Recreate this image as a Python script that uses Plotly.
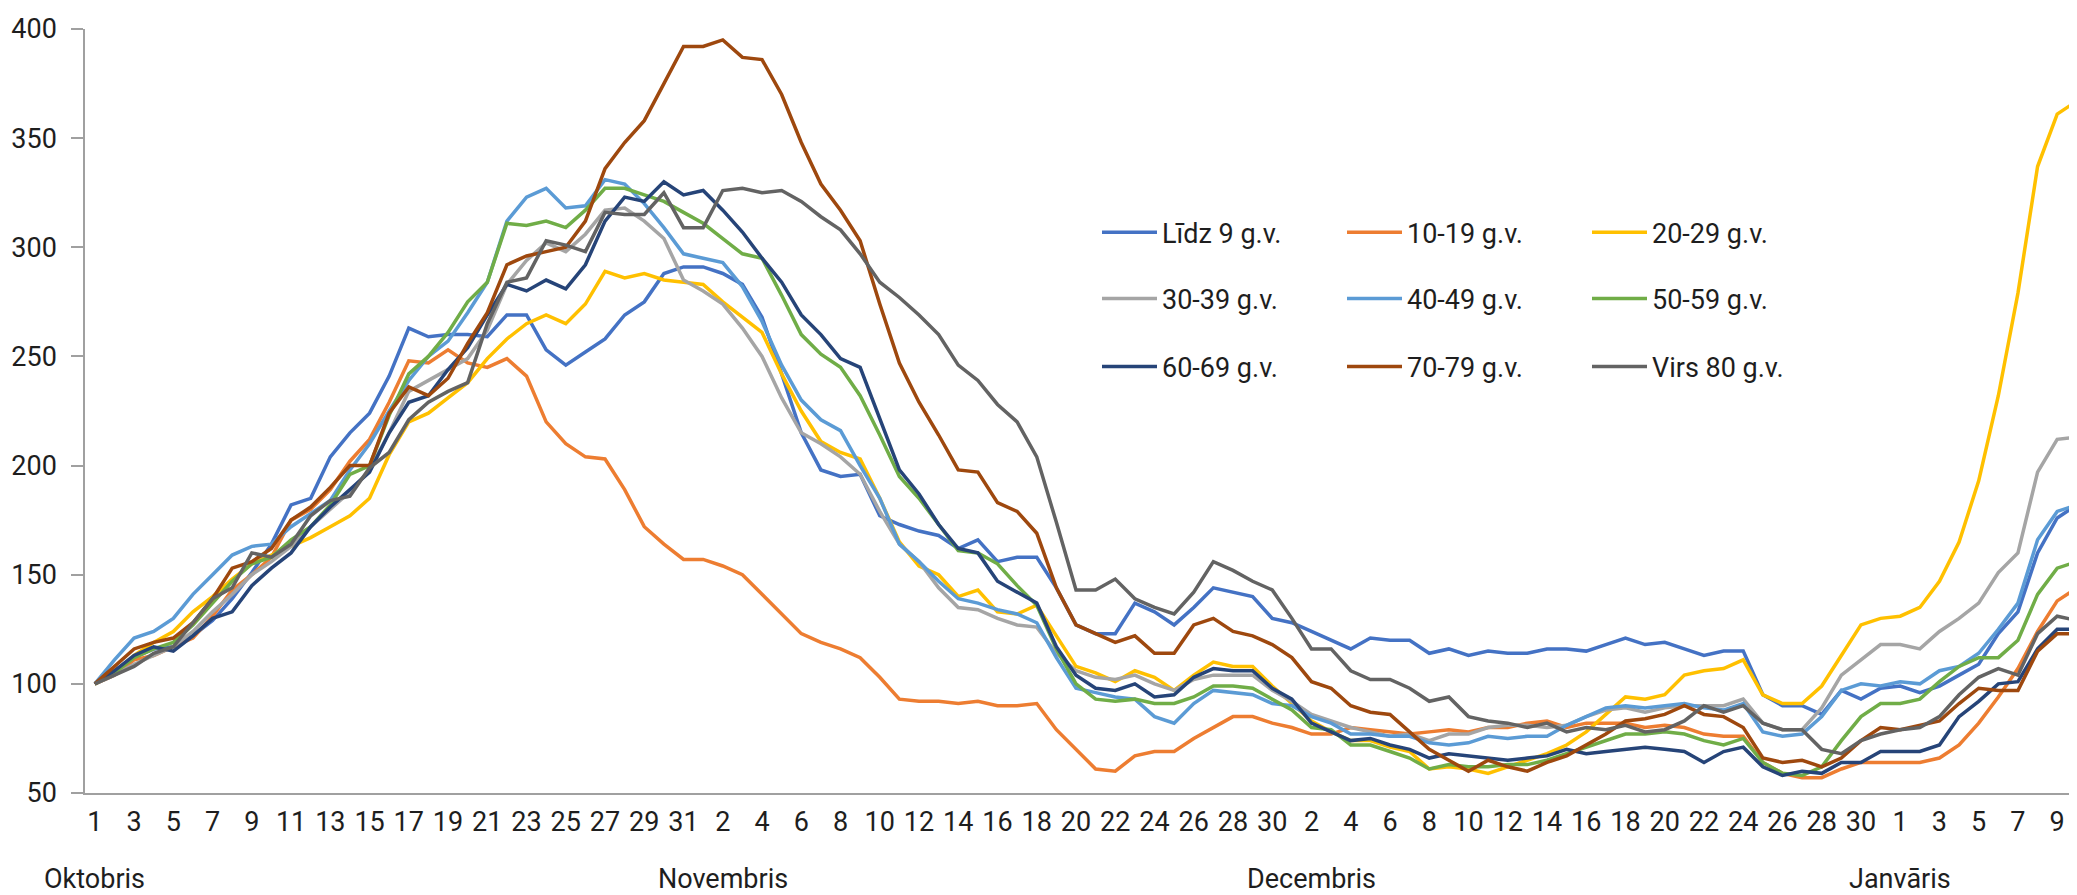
import pandas as pd
import plotly.graph_objects as go

# daily index, 1 Oct = 100
dates = pd.date_range('2021-10-01', '2022-01-10', freq='D')

names = ['Līdz 9 g.v.', '10-19 g.v.', '20-29 g.v.',
         '30-39 g.v.', '40-49 g.v.', '50-59 g.v.',
         '60-69 g.v.', '70-79 g.v.', 'Virs 80 g.v.']
colors = ['#4472C4', '#ED7D31', '#FFC000',
          '#A5A5A5', '#5B9BD5', '#70AD47',
          '#264478', '#9E480E', '#636363']

lidz_9 = [100, 106, 112, 116, 117, 122, 129, 139, 151, 164, 182, 185, 204, 215, 224, 241, 263, 259, 260, 260,
          259, 269, 269, 253, 246, 252, 258, 269, 275, 288, 291,
          291, 288, 283, 268, 242, 215, 198, 195, 196, 177, 173, 170, 168, 162, 166, 156, 158, 158, 144, 127,
          123, 123, 137, 133, 127, 135, 144, 142, 140, 130,
          128, 124, 120, 116, 121, 120, 120, 114, 116, 113, 115, 114, 114, 116, 116, 115, 118, 121, 118, 119,
          116, 113, 115, 115, 95, 90, 90, 86, 97, 93, 98,
          99, 96, 99, 104, 109, 123, 133, 160, 176, 182]
g10_19 = [100, 104, 111, 113, 117, 121, 131, 143, 150, 158, 175, 180, 189, 202, 212, 229, 248, 247, 253, 247,
          245, 249, 241, 220, 210, 204, 203, 189, 172, 164, 157,
          157, 154, 150, 141, 132, 123, 119, 116, 112, 103, 93, 92, 92, 91, 92, 90, 90, 91, 79, 70,
          61, 60, 67, 69, 69, 75, 80, 85, 85, 82,
          80, 77, 77, 80, 79, 78, 77, 78, 79, 78, 80, 80, 82, 83, 80, 82, 82, 82, 80, 81,
          80, 77, 76, 76, 64, 59, 57, 57, 61, 64, 64,
          64, 64, 66, 72, 82, 94, 107, 124, 138, 144]
g20_29 = [100, 105, 113, 119, 124, 133, 140, 148, 155, 159, 163, 167, 172, 177, 185, 205, 220, 224, 231, 238,
          249, 258, 265, 269, 265, 274, 289, 286, 288, 285, 284,
          283, 275, 268, 261, 242, 225, 211, 206, 203, 185, 165, 154, 150, 140, 143, 133, 132, 136, 122, 108,
          105, 101, 106, 103, 97, 104, 110, 108, 108, 99,
          91, 83, 78, 74, 74, 71, 69, 61, 62, 61, 59, 62, 65, 68, 72, 78, 86, 94, 93, 95,
          104, 106, 107, 111, 95, 91, 91, 99, 113, 127, 130,
          131, 135, 147, 165, 193, 232, 279, 337, 361, 367]
g30_39 = [100, 104, 109, 113, 117, 124, 133, 141, 150, 156, 163, 172, 180, 188, 198, 215, 234, 239, 244, 249,
          262, 283, 294, 302, 298, 306, 317, 318, 312, 304, 285,
          280, 274, 263, 250, 231, 215, 210, 204, 196, 179, 164, 156, 144, 135, 134, 130, 127, 126, 114, 106,
          103, 102, 104, 100, 97, 102, 104, 104, 104, 97,
          92, 86, 83, 80, 78, 76, 77, 74, 77, 77, 80, 81, 81, 80, 81, 85, 88, 89, 87, 89,
          90, 90, 90, 93, 82, 79, 79, 89, 104, 111, 118,
          118, 116, 124, 130, 137, 151, 160, 197, 212, 213]
g40_49 = [100, 111, 121, 124, 130, 141, 150, 159, 163, 164, 172, 178, 184, 198, 210, 225, 239, 250, 257, 270,
          284, 312, 323, 327, 318, 319, 331, 329, 320, 309, 297,
          295, 293, 282, 266, 246, 230, 221, 216, 200, 185, 164, 156, 147, 139, 137, 134, 132, 128, 112, 98,
          96, 94, 93, 85, 82, 91, 97, 96, 95, 91,
          90, 85, 82, 77, 77, 76, 76, 73, 72, 73, 76, 75, 76, 76, 81, 85, 89, 90, 89, 90,
          91, 89, 88, 91, 78, 76, 77, 85, 97, 100, 99,
          101, 100, 106, 108, 114, 125, 137, 166, 179, 182]
g50_59 = [100, 105, 112, 116, 119, 127, 137, 147, 155, 158, 166, 172, 182, 196, 200, 223, 242, 250, 261, 275,
          284, 311, 310, 312, 309, 317, 327, 327, 324, 321, 316,
          311, 304, 297, 295, 278, 260, 251, 245, 232, 214, 195, 185, 173, 161, 160, 155, 145, 136, 116, 100,
          93, 92, 93, 91, 91, 94, 99, 99, 98, 93,
          88, 80, 79, 72, 72, 69, 66, 61, 63, 62, 62, 63, 63, 65, 68, 71, 74, 77, 77, 78,
          77, 74, 72, 75, 64, 59, 58, 62, 74, 85, 91,
          91, 93, 101, 108, 112, 112, 120, 141, 153, 156]
g60_69 = [100, 106, 113, 117, 115, 122, 130, 133, 145, 153, 160, 172, 181, 189, 197, 215, 229, 232, 244, 254,
          269, 283, 280, 285, 281, 292, 312, 323, 321, 330, 324,
          326, 317, 307, 295, 284, 269, 260, 249, 245, 221, 198, 187, 173, 162, 160, 147, 142, 137, 117, 104,
          98, 97, 100, 94, 95, 103, 107, 106, 106, 98,
          93, 82, 78, 74, 75, 72, 70, 66, 68, 67, 66, 65, 66, 67, 70, 68, 69, 70, 71, 70,
          69, 64, 69, 71, 62, 58, 60, 59, 64, 64, 69,
          69, 69, 72, 85, 92, 100, 101, 116, 125, 125]
g70_79 = [100, 108, 116, 119, 121, 128, 139, 153, 156, 162, 175, 181, 190, 200, 200, 224, 236, 232, 240, 256,
          270, 292, 296, 298, 300, 312, 336, 348, 358, 375, 392,
          392, 395, 387, 386, 370, 348, 329, 317, 303, 274, 247, 229, 214, 198, 197, 183, 179, 169, 144, 127,
          123, 119, 122, 114, 114, 127, 130, 124, 122, 118,
          112, 101, 98, 90, 87, 86, 78, 70, 65, 60, 65, 62, 60, 64, 67, 72, 77, 83, 84, 86,
          90, 86, 85, 80, 66, 64, 65, 62, 66, 74, 80,
          79, 81, 83, 91, 98, 97, 97, 115, 123, 123]
virs_80 = [100, 104, 108, 114, 117, 128, 139, 144, 160, 158, 164, 177, 184, 186, 199, 206, 221, 229, 234, 238,
           265, 284, 286, 303, 301, 298, 316, 315, 315, 325, 309,
           309, 326, 327, 325, 326, 321, 314, 308, 297, 284, 277, 269, 260, 246, 239, 228, 220, 204, 174, 143,
           143, 148, 139, 135, 132, 142, 156, 152, 147, 143,
           130, 116, 116, 106, 102, 102, 98, 92, 94, 85, 83, 82, 80, 82, 78, 80, 79, 81, 78, 79,
           83, 90, 87, 90, 82, 79, 79, 70, 68, 74, 77,
           79, 80, 85, 95, 103, 107, 104, 123, 131, 129]

series = [lidz_9, g10_19, g20_29, g30_39, g40_49, g50_59, g60_69, g70_79, virs_80]

month_labels = ['Oktobris', 'Novembris', 'Decembris', 'Janvāris']
month_at = ['2021-10-01', '2021-11-02', '2021-12-02', '2022-01-01']

font_name = 'Roboto, sans-serif'
txt_col = '#1e1e1e'
axis_col = '#a0a0a0'
fsize = 27


def tfont(size=fsize):
    return dict(family=font_name, size=size, color=txt_col)


fig = go.Figure()
legends = ['legend', 'legend', 'legend', 'legend2', 'legend2', 'legend2', 'legend3', 'legend3', 'legend3']
for name, vals, col, leg in zip(names, series, colors, legends):
    fig.add_trace(go.Scatter(x=dates, y=vals, mode='lines', name=name,
                             line=dict(color=col, width=3.5), legend=leg))

tick_dates = dates[::2]
tick_text = [str(d.day) for d in tick_dates]


def legend_row(y):
    return dict(orientation='h', x=0.506, y=y, xanchor='left', yanchor='middle',
                entrywidth=175, entrywidthmode='pixels', itemwidth=55,
                font=tfont(), bgcolor='rgba(0,0,0,0)')


# the page body adds an 8px offset, so margins are set 8px smaller on the left/top
fig.update_layout(
    width=2077, height=895,
    margin=dict(l=77, r=0, t=21, b=110),
    plot_bgcolor='white', paper_bgcolor='white',
    font=tfont(),
    legend=legend_row(0.7335),
    legend2=legend_row(0.6465),
    legend3=legend_row(0.5575),
    xaxis=dict(
        range=[pd.Timestamp('2021-10-01') - pd.Timedelta(hours=12),
               pd.Timestamp('2022-01-10') + pd.Timedelta(hours=10)],
        tickmode='array', tickvals=tick_dates, ticktext=tick_text,
        showgrid=False, zeroline=False, showline=True, linecolor=axis_col, linewidth=1.5,
        ticks='', tickfont=tfont(), ticklabelstandoff=4, automargin=False,
    ),
    yaxis=dict(
        range=[50, 400], tickmode='array', tickvals=list(range(50, 401, 50)),
        showgrid=False, zeroline=False, showline=True, linecolor=axis_col, linewidth=1.5,
        ticks='outside', ticklen=12, tickcolor=axis_col, tickwidth=1.5,
        ticklabelstandoff=9, tickfont=tfont(), automargin=False,
    ),
)

for lab, d in zip(month_labels, month_at):
    fig.add_annotation(x=d, y=-0.112, xref='x', yref='paper', text=lab, showarrow=False,
                       xanchor='center', yanchor='middle', font=tfont())

fig.write_html('out.html')
